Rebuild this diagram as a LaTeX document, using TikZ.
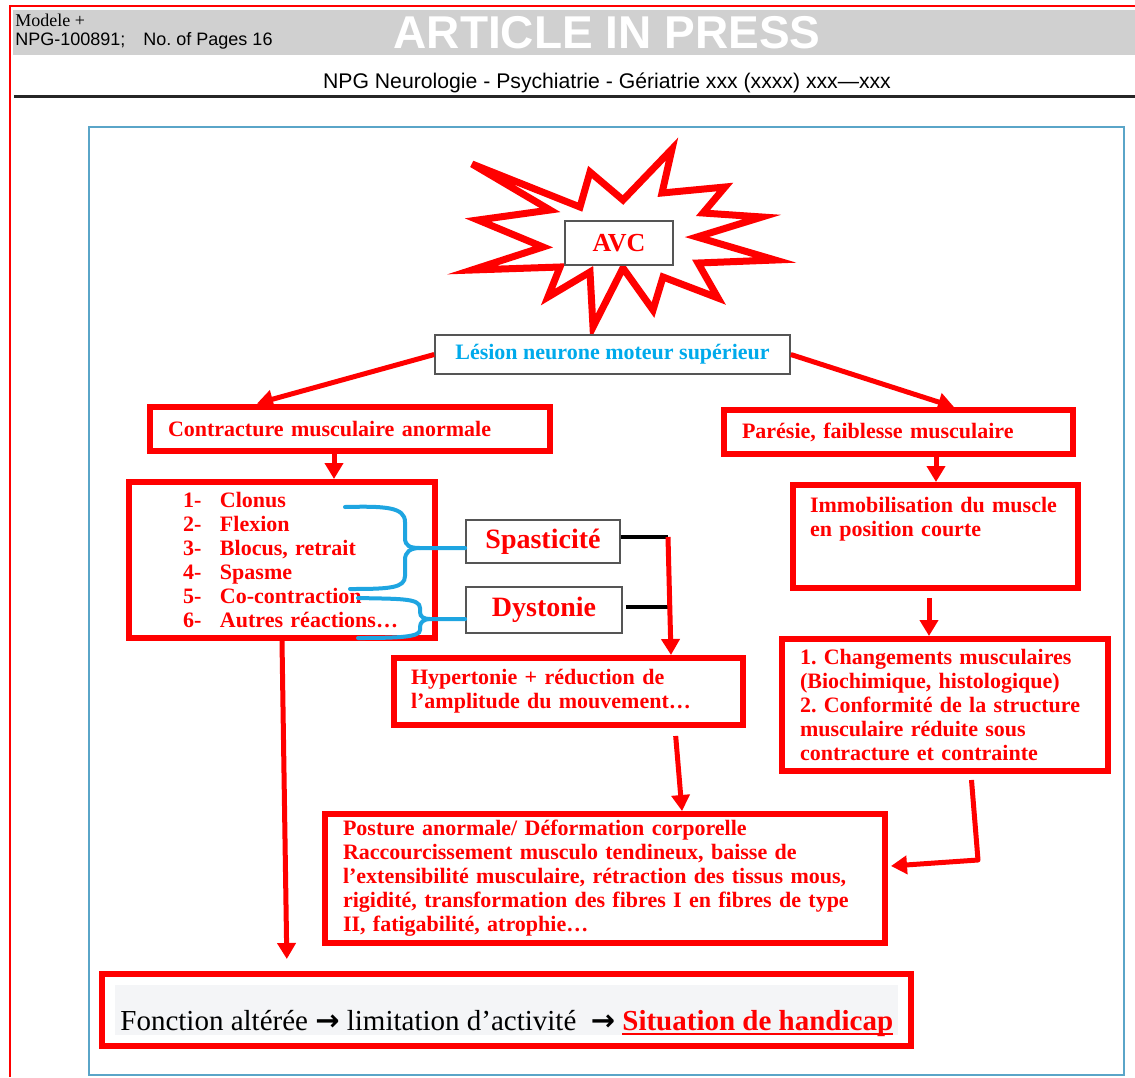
\documentclass[tikz,border=0pt]{standalone}
\usepackage{fontspec}
\setmainfont{Liberation Serif}
\setsansfont{Liberation Sans}
\newfontfamily\dejavu{DejaVu Sans}
\usetikzlibrary{arrows.meta,calc}
\definecolor{myred}{RGB}{255,0,0}
\definecolor{myblue}{RGB}{0,170,235}
\definecolor{bracecol}{RGB}{30,165,225}
\definecolor{framecol}{RGB}{90,165,200}
\definecolor{hdrgray}{RGB}{208,208,208}
\definecolor{boxgray}{RGB}{85,85,85}
\definecolor{paleback}{RGB}{244,245,247}
\newcommand{\myredul}[1]{\setbox0\hbox{#1}\rlap{\raisebox{-2.4pt}{\color{myred}\rule{\wd0}{1.1pt}}}\box0}
\frenchspacing
\begin{document}
\begin{tikzpicture}[x=0.5pt,y=-0.5pt,
  rbox/.style={draw=myred, line width=3pt, fill=white, inner ysep=0pt, text=myred,
     font=\bfseries\fontsize{11}{12}\selectfont, align=left},
  gbox/.style={draw=boxgray, line width=0.8pt, fill=white, inner sep=0pt},
  rarrow/.style={draw=myred, line width=2.5pt, -{Triangle[length=8pt,width=9pt]}},
  blkline/.style={draw=black, line width=2pt},
  bracestyle/.style={draw=bracecol, line width=2pt, line cap=round},
  hdr/.style={inner sep=0pt, anchor=west},
]
\useasboundingbox (0,0) rectangle (1135,1077);
% page header
\fill[hdrgray] (13,10) rectangle (1135,55);
\draw[myred, line width=1pt] (10,1077) -- (10,6) -- (1135,6);
\node[hdr, font=\fontsize{9}{10}\selectfont] (modele) at (15,20) {Modele +};
\node[hdr, font=\sffamily\fontsize{9}{10}\selectfont] (npgid) at (15,41) {NPG-100891;\quad No. of Pages 16};
\node[inner sep=0pt, font=\sffamily\bfseries\fontsize{23}{24}\selectfont, text=white] (aip) at (607,33) {ARTICLE IN PRESS};
\node[inner sep=0pt, font=\sffamily\fontsize{10.6}{12}\selectfont] (journal) at (607,83) {NPG Neurologie - Psychiatrie - Gériatrie xxx (xxxx) xxx—xxx};
\draw[line width=1.5pt, black!85] (14,96) -- (1135,96);
% figure frame
\draw[framecol, line width=1pt] (89,127) rectangle (1124,1075);
% starburst
\draw[myred, line width=3.5pt, fill=white, line join=miter]
  (472,164) -- (580,207) -- (590,172) -- (623,200) -- (672,149) -- (662,193)
  -- (725,187) -- (703,213) -- (762,217) -- (697,237) -- (775,260) -- (698,263)
  -- (718,298) -- (663,277) -- (653,310) -- (623,268) -- (593,327) -- (590,272)
  -- (548,297) -- (560,267) -- (472,270) -- (543,247) -- (478,220) -- (550,210) -- cycle;
\node[gbox, minimum width=54pt, minimum height=22pt, font=\bfseries\fontsize{13}{14}\selectfont, text=myred] (avc) at (619,243) {AVC};
% boxes
\node[gbox, minimum width=177.5pt, minimum height=19.5pt, font=\bfseries\fontsize{11}{12}\selectfont, text=myblue] (lesion) at (612.5,354.5) {Lésion neurone moteur supérieur};
\node[rbox, minimum width=200pt, minimum height=22pt, inner xsep=9pt, text width=182pt] (contr) at (350,428.5) {Contracture musculaire anormale};
\node[rbox, minimum width=174.5pt, minimum height=22pt, inner xsep=9pt, text width=156.5pt] (pares) at (898.5,432) {Parésie, faiblesse musculaire};
\node[rbox, minimum width=153pt, minimum height=78pt, inner xsep=27pt, text width=99pt] (list) at (282,560) {%
\mbox{\makebox[18.5pt][l]{1-}Clonus}\\
\mbox{\makebox[18.5pt][l]{2-}Flexion}\\
\mbox{\makebox[18.5pt][l]{3-}Blocus, retrait}\\
\mbox{\makebox[18.5pt][l]{4-}Spasme}\\
\mbox{\makebox[18.5pt][l]{5-}Co-contraction}\\
\mbox{\makebox[18.5pt][l]{6-}Autres réactions…}};
\node[rbox, minimum width=142.5pt, minimum height=51.5pt, inner xsep=8.5pt, text width=125.5pt] (immo) at (935.5,536.5) {%
\mbox{Immobilisation du muscle}\\
\mbox{en position courte}\\[8pt]\mbox{}};
\node[rbox, minimum width=163pt, minimum height=66pt, inner xsep=9pt, text width=145pt] (chg) at (945,705) {%
\mbox{1. Changements musculaires}\\
\mbox{(Biochimique, histologique)}\\
\mbox{2. Conformité de la structure}\\
\mbox{musculaire réduite sous}\\
\mbox{contracture et contrainte}};
\node[gbox, minimum width=77pt, minimum height=21.5pt, font=\bfseries\fontsize{14}{15}\selectfont, text=myred] (spas) at (543,541.5) {Spasticité};
\node[gbox, minimum width=78pt, minimum height=23pt, font=\bfseries\fontsize{14}{15}\selectfont, text=myred] (dyst) at (544,610) {Dystonie};
\node[rbox, minimum width=174.5pt, minimum height=33.5pt, inner xsep=8.5pt, text width=157.5pt] (hyp) at (568.5,691.5) {%
\mbox{Hypertonie + réduction de}\\
\mbox{l’amplitude du mouvement…}};
\node[rbox, minimum width=280pt, minimum height=64.5pt, inner xsep=9pt, text width=262pt] (post) at (605,878.5) {%
\mbox{Posture anormale/ Déformation corporelle}\\
\mbox{Raccourcissement musculo tendineux, baisse de}\\
\mbox{l’extensibilité musculaire, rétraction des tissus mous,}\\
\mbox{rigidité, transformation des fibres I en fibres de type}\\
\mbox{II, fatigabilité, atrophie…}};
% bottom box
\fill[paleback] (115,985) rectangle (898,1035);
\node[draw=myred, line width=3pt, minimum width=404.5pt, minimum height=36pt, inner sep=0pt] (bottom) at (506.5,1010) {};
\node[inner sep=0pt, anchor=base west, font=\fontsize{14.5}{16}\selectfont] (bottomtxt) at (120,1030) {Fonction altérée {\dejavu\bfseries →} limitation d’activité\ \ {\dejavu\bfseries →} {\bfseries\color{myred}\myredul{Situation de handicap}}};
% junction points
\coordinate (j1) at (668,537);
\coordinate (j2) at (668,607);
\coordinate (k1) at (978,860);
% connectors
\draw[rarrow] (lesion.west) -- ($(contr.north west)+(110,0)$);
\draw[rarrow] (lesion.east) -- ($(pares.north west)+(233,0)$);
\draw[rarrow] ($(contr.south west)+(187,0)$) -- ($(list.north west)+(208,0)$);
\draw[rarrow, shorten >=6pt] (list.south) -- ($(bottom.north west)+(188,0)$);
\draw[rarrow] ($(pares.south west)+(215,0)$) -- ($(immo.north west)+(146,0)$);
\draw[rarrow, shorten <=3.5pt] ($(immo.south west)+(139,0)$) -- ($(chg.north west)+(150,0)$);
\draw[blkline] ($(spas.east)+(0,-4.5)$) -- (j1);
\draw[blkline] ($(dyst.east)+(3,-3)$) -- (j2);
\draw[rarrow] (j1) -- ($(hyp.north west)+(280,0)$);
\draw[rarrow, shorten <=4pt] ($(hyp.south west)+(284,0)$) -- ($(post.north west)+(360,0)$);
\draw[rarrow, shorten <=3pt, line join=round] ($(chg.south west)+(192,0)$) -- (k1) -- ($(post.east)+(3,-12.5)$);
% braces
\draw[bracestyle] (345,507) .. controls (385,506) and (405,507) .. (405,522) -- (405,538)
  .. controls (405,546) and (410,548) .. (420,548) -- ($(spas.west)+(0,6.5)$);
\draw[bracestyle] (420,548) .. controls (410,548) and (405,552) .. (405,560) -- (405,576)
  .. controls (405,588) and (390,589) .. (350,589);
\draw[bracestyle] (358,598) .. controls (400,599) and (420,598) .. (420,608) -- (420,612)
  .. controls (420,617) and (424,619) .. (430,619) -- ($(dyst.west)+(0,9)$);
\draw[bracestyle] (430,619) .. controls (424,619) and (420,622) .. (420,627) -- (420,630)
  .. controls (420,637) and (400,638) .. (358,638);
\end{tikzpicture}
\end{document}
